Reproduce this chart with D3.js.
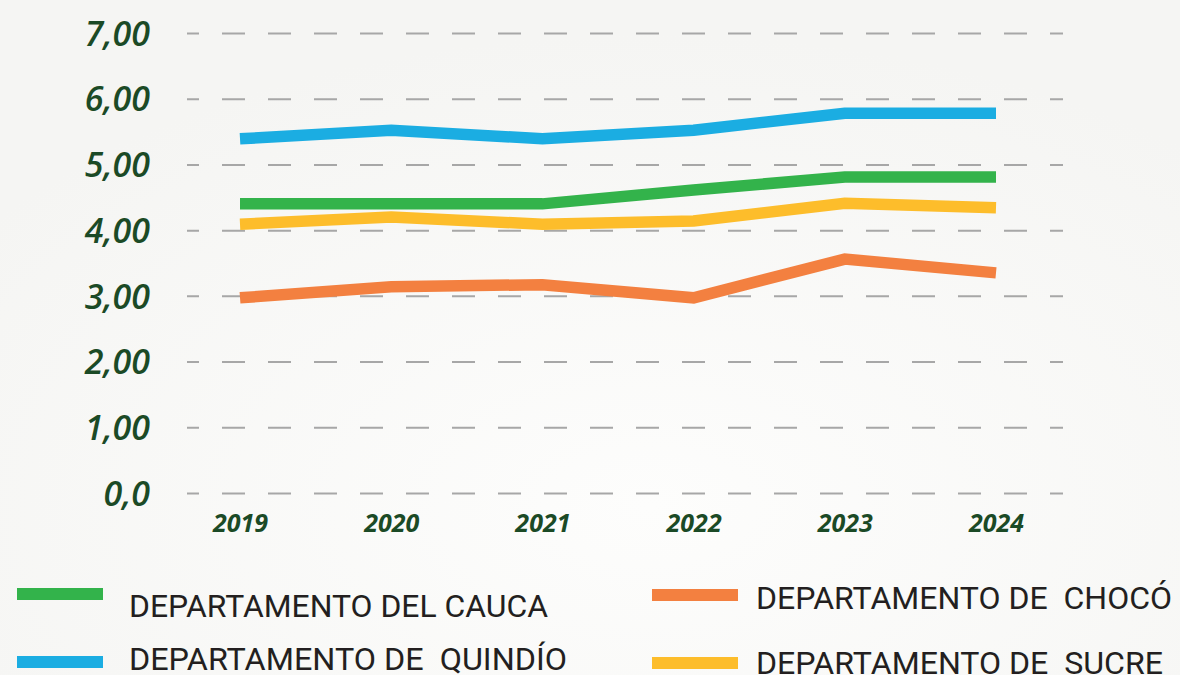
<!DOCTYPE html>
<html>
<head>
<meta charset="utf-8">
<script src="https://cdn.jsdelivr.net/npm/d3@7"></script>
<style>
  html, body { margin: 0; padding: 0; }
  body { width: 1180px; height: 675px; overflow: hidden; background: #f7f7f5; }
  svg { display: block; }
</style>
</head>
<body>
<svg id="chart"></svg>
<script>
// data
const years = ["2019", "2020", "2021", "2022", "2023", "2024"]
const cauca   = [4.40, 4.40, 4.40, 4.61, 4.81, 4.81]
const quindio = [5.39, 5.52, 5.39, 5.52, 5.78, 5.78]
const choco   = [2.97, 3.14, 3.17, 2.97, 3.56, 3.35]
const sucre   = [4.09, 4.20, 4.09, 4.14, 4.41, 4.34]
const yTicks = [0, 1, 2, 3, 4, 5, 6, 7]
const yTickLabels = ["0,0", "1,00", "2,00", "3,00", "4,00", "5,00", "6,00", "7,00"]
const seriesNames = ["DEPARTAMENTO DEL CAUCA", "DEPARTAMENTO DE  QUINDÍO", "DEPARTAMENTO DE  CHOCÓ", "DEPARTAMENTO DE  SUCRE"]

const W = 1180, H = 675
const gridLeft = 187, gridRight = 1063

const svg = d3.select("#chart")
    .attr("width", W)
    .attr("height", H)

// soft background
const defs = svg.append("defs")
const grad = defs.append("radialGradient").attr("id", "bg")
    .attr("cx", "55%").attr("cy", "75%").attr("r", "70%")
grad.append("stop").attr("offset", "0%").attr("stop-color", "#fdfdfc")
grad.append("stop").attr("offset", "100%").attr("stop-color", "#f5f5f3")
svg.append("rect").attr("width", W).attr("height", H).attr("fill", "url(#bg)")

const xScale = d3.scalePoint()
    .domain(years)
    .range([240, 996])
const yScale = d3.scaleLinear()
    .domain([0, 7])
    .range([493, 33])

// y axis with dashed grid
const yAxis = d3.axisLeft(yScale)
    .tickValues(yTicks)
    .tickSize(-(gridRight - gridLeft))
    .tickPadding(37)
    .tickFormat((d, i) => yTickLabels[i])

const yg = svg.append("g")
    .attr("transform", `translate(${gridLeft},0)`)
    .call(yAxis)
yg.select(".domain").remove()
yg.selectAll(".tick line")
    .attr("stroke", "#a7a7a7")
    .attr("stroke-width", 2)
    .attr("stroke-dasharray", "23 23")
    .attr("stroke-dashoffset", 11)
yg.selectAll(".tick text")
    .attr("fill", "#1b4a26")
    .attr("dy", "0.36em")
    .style("font-family", "'Open Sans', sans-serif")
    .style("font-weight", "600")
    .style("font-style", "italic")
    .style("font-size", "34px")

// x axis labels
const xAxis = d3.axisBottom(xScale).tickSize(0).tickPadding(0)
const xg = svg.append("g")
    .attr("transform", "translate(0,514)")
    .call(xAxis)
xg.select(".domain").remove()
xg.selectAll(".tick text")
    .attr("fill", "#1b4a26")
    .attr("dy", "0.72em")
    .style("font-family", "'Open Sans', sans-serif")
    .style("font-weight", "700")
    .style("font-style", "italic")
    .style("font-size", "25px")

// lines
const series = [
    { name: seriesNames[0], values: cauca, color: "#33b34b" },
    { name: seriesNames[1], values: quindio, color: "#1badE2" },
    { name: seriesNames[2], values: choco, color: "#f38040" },
    { name: seriesNames[3], values: sucre, color: "#fdbd2b" }
]

const line = d3.line()
    .x((d, i) => xScale(years[i]))
    .y(d => yScale(d))

const lineGroup = svg.append("g")
// draw order: orange, yellow, green, blue
;[2, 3, 0, 1].forEach(k => {
    lineGroup.append("path")
        .datum(series[k].values)
        .attr("d", line)
        .attr("fill", "none")
        .attr("stroke", series[k].color)
        .attr("stroke-width", 11.5)
        .attr("stroke-linejoin", "miter")
})

// legend
const legendPos = [
    { x: 17, y: 588, tx: 129, ty: 617, tw: 419 },
    { x: 17, y: 656, tx: 129, ty: 670, tw: 438 },
    { x: 652, y: 589, tx: 756, ty: 609, tw: 416 },
    { x: 652, y: 657, tx: 756, ty: 674, tw: 407 }
]
const legend = svg.append("g")
series.forEach((s, i) => {
    const p = legendPos[i]
    legend.append("rect")
        .attr("x", p.x).attr("y", p.y)
        .attr("width", 86).attr("height", 12)
        .attr("fill", s.color)
    legend.append("text")
        .attr("x", p.tx).attr("y", p.ty)
        .attr("textLength", p.tw)
        .attr("lengthAdjust", "spacingAndGlyphs")
        .style("white-space", "pre")
        .style("font-family", "Roboto, sans-serif")
        .style("font-size", "31px")
        .attr("fill", "#231f20")
        .text(s.name)
})
</script>
</body>
</html>
